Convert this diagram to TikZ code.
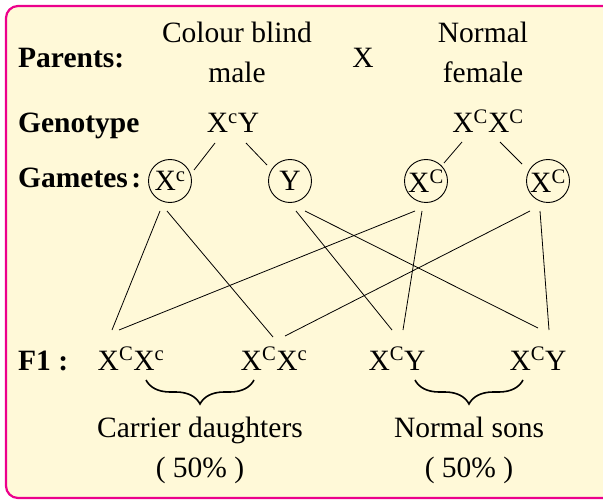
\documentclass[tikz,border=0pt]{standalone}
\usepackage{fontspec}
\setmainfont{LiberationSerif}[Extension=.ttf, UprightFont=*-Regular, BoldFont=*-Bold,
  ItalicFont=*-Italic, BoldItalicFont=*-BoldItalic]
\usetikzlibrary{calc,decorations.pathreplacing}

\definecolor{framepink}{HTML}{EC008C}
\definecolor{paleyellow}{HTML}{FFF9D8}

\tikzset{
  head/.style={font=\fontsize{29.5}{40}\selectfont\bfseries, anchor=base west, inner sep=0pt},
  gamete/.style={circle, draw, line width=0.9pt, minimum size=43pt, inner sep=0pt},
  link/.style={line width=0.8pt},
  bracedown/.style={decorate, decoration={brace, mirror, amplitude=24pt}, line width=1.6pt}
}

\begin{document}
\begin{tikzpicture}[x=1pt, y=-1pt, font=\rmfamily\fontsize{29.5}{40}\selectfont]
        \useasboundingbox (0,0) rectangle (603,500);
        \draw[framepink, fill=paleyellow, line width=2.2pt, rounded corners=12pt] (6,6) rectangle (616,498);

        % Parents
        \node[head] (parents) at (18,68) {Parents:};
        \node[align=center] (male) at (237,52) {Colour blind\\male};
        \node[anchor=base] (cross) at (363,68) {X};
        \node[align=center] (female) at (483,52) {Normal\\female};

        % Genotype
        \node[head] (genotype) at (18,133) {Genotype};
        \node[anchor=base, inner sep=0pt] (mgeno) at (233,133) {X\textsuperscript{c}Y};
        \node[anchor=base, inner sep=0pt] (fgeno) at (488,133) {X\textsuperscript{C}X\textsuperscript{C}};

        % Gametes
        \node[head] (gametes) at (18,188) {Gametes\hspace{0.12em}:};
        \node[gamete] (g1) at (170,181) {X\textsuperscript{c}};
        \node[gamete] (g2) at (290,181) {Y};
        \node[gamete] (g3) at (426,181) {X\textsuperscript{C}};
        \node[gamete] (g4) at (548,181) {X\textsuperscript{C}};

        \foreach \p/\px/\py/\g/\gx/\gy in {mgeno/-18/10/g1/24/-11, mgeno/13/10/g2/-23/-16,
                                          fgeno/-26/9/g3/18/-18, fgeno/12/9/g4/-26/-17} {
          \draw[link] ($(\p.base)+(\px,\py)$) -- ($(\g)+(\gx,\gy)$);
        }

        % F1
        \node[head] (fone) at (18,370) {F1 :};
        \node[anchor=base, inner sep=0pt] (d1) at (131,370) {X\textsuperscript{C}X\textsuperscript{c}};
        \node[anchor=base, inner sep=0pt] (d2) at (274,370) {X\textsuperscript{C}X\textsuperscript{c}};
        \node[anchor=base, inner sep=0pt] (s1) at (397,370) {X\textsuperscript{C}Y};
        \node[anchor=base, inner sep=0pt] (s2) at (538,370) {X\textsuperscript{C}Y};

        \foreach \g/\gx/\f/\fx/\fy in {g1/-10/d1/-19/-40, g1/-3/d2/-1/-33,
                                      g2/6/s1/-5/-40, g2/15/s2/0/-42,
                                      g3/-11/d1/-12/-40, g3/-4/s1/6/-40,
                                      g4/-18/d2/11/-34, g4/-8/s2/11/-40} {
          \draw[link] ($(\g)+(\gx,30)$) -- ($(\f.base)+(\fx,\fy)$);
        }

        \draw[bracedown] ($(d1.base)+(15,10)$) -- ($(d2.base)+(-20,10)$);
        \draw[bracedown] ($(s1.base)+(18,10)$) -- ($(s2.base)+(-15,10)$);

        \node[anchor=base] (daughters) at (200,437) {Carrier daughters};
        \node[anchor=base] (dpct) at (200,477) {( 50\% )};
        \node[anchor=base] (sons) at (469,437) {Normal sons};
        \node[anchor=base] (spct) at (469,477) {( 50\% )};
    \end{tikzpicture}
\end{document}
